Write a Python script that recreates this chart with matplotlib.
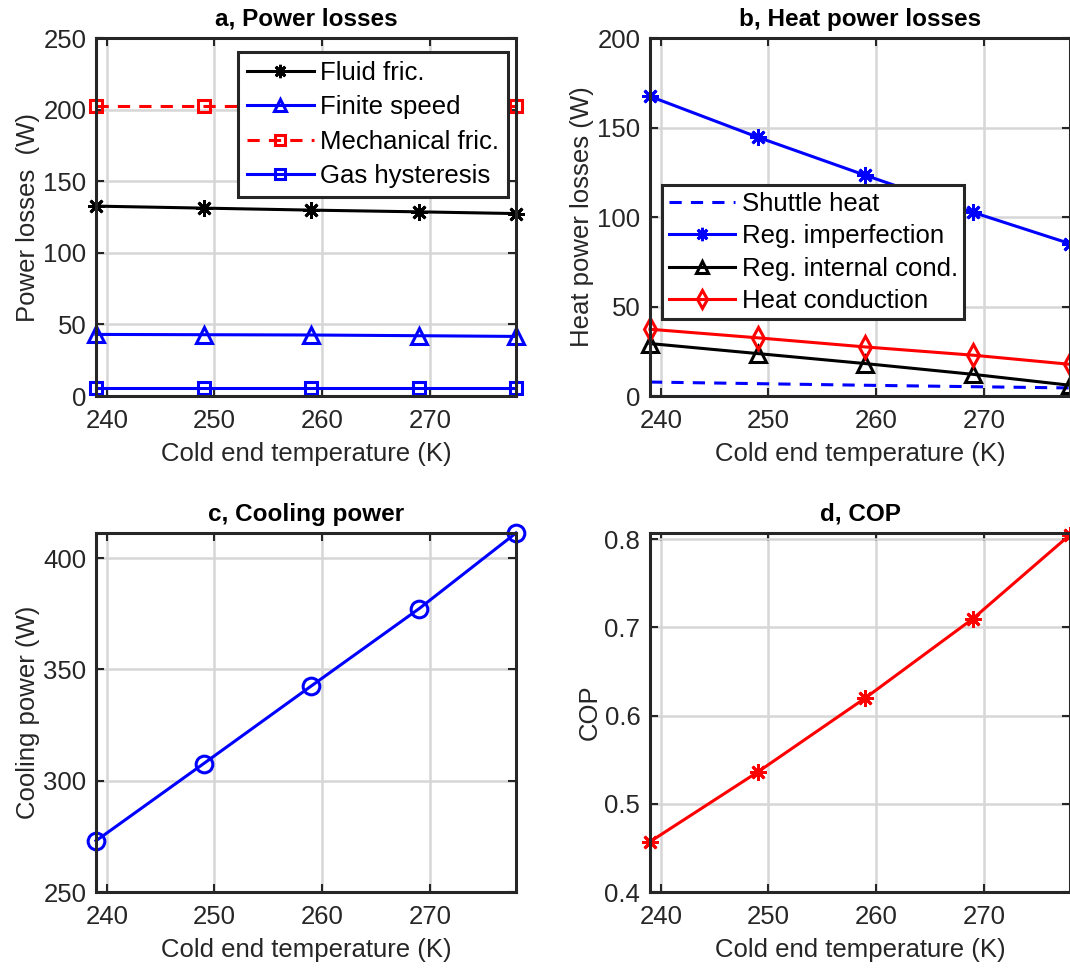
import matplotlib
matplotlib.use("Agg")
import matplotlib.pyplot as plt

plt.rcParams["font.family"] = ["Liberation Sans", "DejaVu Sans"]
plt.rcParams["font.size"] = 18

# cold end temperature (K)
temps = [239, 249, 259, 269, 278]

# a, power losses (W)
fluid_fric = [132.6, 131.2, 129.8, 128.6, 127.4]
finite_speed = [43.0, 42.8, 42.6, 42.1, 41.6]
mech_fric = [202.8, 202.8, 202.8, 202.8, 202.8]
gas_hyst = [5.8, 5.8, 5.8, 5.8, 5.8]

# b, heat power losses (W)
shuttle_heat = [7.8, 6.9, 6.0, 5.2, 4.5]
reg_imperf = [167.4, 144.6, 123.3, 102.6, 85.1]
reg_internal = [29.3, 23.7, 18.1, 12.1, 6.0]
heat_cond = [37.3, 32.5, 27.4, 22.8, 17.7]

# c, cooling power (W) and d, COP
cooling = [273.0, 307.7, 342.6, 377.3, 411.3]
cop = [0.457, 0.536, 0.620, 0.710, 0.805]

W, H = 1070.0, 968.0
fig = plt.figure(figsize=(W / 100, H / 100), dpi=100)

ASTER = (8, 2, 0)  # matlab style asterisk


def make_axes(x0, y0, x1, y1):
    return fig.add_axes([x0 / W, 1 - y1 / H, (x1 - x0) / W, (y1 - y0) / H])


def style(ax, title, ylabel):
    ax.set_title(title, fontweight="bold", fontsize=17.5, pad=9)
    ax.set_ylabel(ylabel, color="#262626", fontsize=18.5, labelpad=2)
    ax.set_xlabel("Cold end temperature (K)", color="#262626", fontsize=18.5, labelpad=7)
    ax.set_xlim(239, 278)
    ax.set_xticks([240, 250, 260, 270])
    ax.grid(True, color="#d6d6d6", linewidth=1.8)
    ax.set_axisbelow(True)
    ax.tick_params(direction="in", length=6, width=1.5, top=True, right=True,
                   colors="#262626", labelsize=18.5, pad=7)
    ax.tick_params(axis="x", pad=9)
    for sp in ax.spines.values():
        sp.set_linewidth(2.2)
        sp.set_color("#262626")


def legend(ax, anchor, spacing, bpad):
    leg = ax.legend(loc="upper left", bbox_to_anchor=anchor, borderaxespad=0,
                    fancybox=False, framealpha=1, edgecolor="#262626",
                    fontsize=18.5, handlelength=2.6, borderpad=bpad,
                    labelspacing=spacing, handletextpad=0.25, markerscale=0.8)
    leg.get_frame().set_linewidth(2.2)
    return leg


lw = 2.2

# a
ax = make_axes(96, 38, 516, 396)
ax.plot(temps, fluid_fric, "k-", marker=ASTER, ms=12, mew=2, lw=lw, label="Fluid fric.", clip_on=False)
ax.plot(temps, finite_speed, "b-", marker="^", ms=11, mfc="none", mew=2.2, lw=lw,
        label="Finite speed", clip_on=False)
ax.plot(temps, mech_fric, "r--", marker="s", ms=9, mfc="none", mew=2.2, lw=lw,
        label="Mechanical fric.", clip_on=False, dashes=(4, 3))
ax.plot(temps, gas_hyst, "b-", marker="s", ms=9, mfc="none", mew=2.2, lw=lw,
        label="Gas hysteresis", clip_on=False)
ax.set_ylim(0, 250)
ax.set_yticks([0, 50, 100, 150, 200, 250])
style(ax, "a, Power losses", "Power losses  (W)")
legend(ax, (0.338, 0.961), 0.4, 0.35)

# b
ax = make_axes(650, 38, 1070, 396)
ax.plot(temps, shuttle_heat, "b--", lw=lw, label="Shuttle heat", clip_on=False, dashes=(4, 3))
ax.plot(temps, reg_imperf, "b-", marker=ASTER, ms=12, mew=2, lw=lw, label="Reg. imperfection",
        clip_on=False)
ax.plot(temps, reg_internal, "k-", marker="^", ms=11, mfc="none", mew=2.2, lw=lw,
        label="Reg. internal cond.", clip_on=False)
ax.plot(temps, heat_cond, "r-", marker="d", ms=11, mfc="none", mew=2.2, lw=lw,
        label="Heat conduction", clip_on=False)
ax.set_ylim(0, 200)
ax.set_yticks([0, 50, 100, 150, 200])
style(ax, "b, Heat power losses", "Heat power losses (W)")
legend(ax, (0.029, 0.589), 0.33, 0.25)

# c
ax = make_axes(96, 533, 516, 892)
ax.plot(temps, cooling, "b-", marker="o", ms=12, mfc="none", mew=2.2, lw=lw, clip_on=False)
ax.set_ylim(250, max(cooling))
ax.set_yticks([250, 300, 350, 400])
style(ax, "c, Cooling power", "Cooling power (W)")

# d
ax = make_axes(650, 533, 1070, 892)
ax.plot(temps, cop, "r-", marker=ASTER, ms=12, mew=2, lw=lw, clip_on=False)
ax.set_ylim(0.4, 0.807)
ax.set_yticks([0.4, 0.5, 0.6, 0.7, 0.8])
style(ax, "d, COP", "COP")

fig.savefig("out.png", dpi=100)
